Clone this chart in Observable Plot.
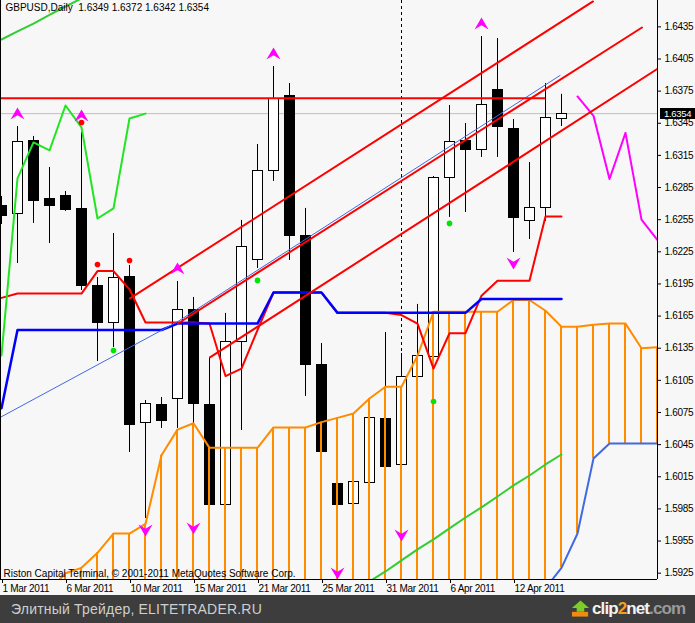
<!DOCTYPE html>
<html>
<head>
<meta charset="utf-8">
<script src="https://cdn.jsdelivr.net/npm/d3@7"></script>
<script src="https://cdn.jsdelivr.net/npm/@observablehq/plot@0.6"></script>
<style>
html, body { margin: 0; padding: 0; background: #f7f7f7; }
#chart { width: 695px; height: 595px; overflow: hidden; }
#footer { position: relative; width: 695px; height: 28px; background: #3d3d3d; overflow: hidden; }
#footer .et { position: absolute; left: 11px; top: 6px; font-family: "Liberation Sans", Arial, sans-serif; font-size: 14px; color: #cfcfcf; letter-spacing: 0.2px; white-space: nowrap; }
#footer .logo { position: absolute; left: 571px; top: 3px; height: 22px; display: flex; align-items: center; white-space: nowrap; }
#footer .logo span.t { font-family: "Liberation Sans", Arial, sans-serif; font-weight: bold; font-size: 17px; letter-spacing: -0.9px; color: #f2f2f2; margin-left: 2px; }
#footer .logo span.two { color: #f0a020; }
#footer .logo span.com { color: #9a9a9a; }
</style>
</head>
<body>
<div id="chart"></div>
<div id="footer">
  <span class="et">Элитный Трейдер, ELITETRADER.RU</span>
  <span class="logo">
    <svg width="19" height="18" viewBox="0 0 20 18"><polygon points="10,0 19,8 14,8 14,12 6,12 6,8 1,8" fill="#7ccc2a"/><rect x="1" y="12" width="17" height="5" fill="#f08a10"/></svg>
    <span class="t">clip<span class="two">2</span>net<span class="com">.com</span></span>
  </span>
</div>
<script>
// ---------- data ----------
const symbol = "GBPUSD";
const period = "Daily";
const barLabels = ["1 Mar 2011", "6 Mar 2011", "10 Mar 2011", "15 Mar 2011", "21 Mar 2011", "25 Mar 2011", "31 Mar 2011", "6 Apr 2011", "12 Apr 2011"];
const labelBars = [0, 4, 8, 12, 16, 20, 24, 28, 32];
const yTicks = [1.6435, 1.6405, 1.6375, 1.6345, 1.6315, 1.6285, 1.6255, 1.6225, 1.6195, 1.6165, 1.6135, 1.6105, 1.6075, 1.6045, 1.6015, 1.5985, 1.5955, 1.5925];
const yRange = [1.59191, 1.64596];
const barRange = [-0.0625, 41];

const opens = [1.62673, 1.62599, 1.63280, 1.62739, 1.62767, 1.62645, 1.61927, 1.61581, 1.62011, 1.60648, 1.60816, 1.60872, 1.61703, 1.60816, 1.59882, 1.61404, 1.62169, 1.63000, 1.63700, 1.62393, 1.61189, 1.60078, 1.59892, 1.60088, 1.60685, 1.60256, 1.61086, 1.61264, 1.62935, 1.63280, 1.63196, 1.63765, 1.63401, 1.62533, 1.62655, 1.6349];
const highs = [1.62767, 1.63420, 1.63327, 1.63037, 1.62813, 1.63364, 1.62011, 1.62421, 1.62123, 1.60862, 1.60890, 1.61973, 1.61824, 1.61264, 1.61675, 1.62543, 1.63252, 1.63980, 1.63821, 1.62655, 1.61394, 1.60116, 1.60134, 1.60769, 1.61497, 1.61301, 1.61759, 1.62953, 1.63616, 1.63448, 1.64260, 1.64241, 1.63485, 1.63084, 1.63821, 1.6372];
const lows = [1.62505, 1.62141, 1.62515, 1.62328, 1.62627, 1.61889, 1.61226, 1.61357, 1.60377, 1.59761, 1.60601, 1.60601, 1.59780, 1.59873, 1.59873, 1.60582, 1.62095, 1.62907, 1.62169, 1.60900, 1.60349, 1.59360, 1.59425, 1.60060, 1.60209, 1.59714, 1.61049, 1.60900, 1.62571, 1.62617, 1.63131, 1.63131, 1.62244, 1.62365, 1.62533, 1.6342];
const closes = [1.62580, 1.63271, 1.62720, 1.62673, 1.62636, 1.61927, 1.61581, 1.62001, 1.60629, 1.60825, 1.60666, 1.61703, 1.60825, 1.59882, 1.61404, 1.62291, 1.63000, 1.63681, 1.62393, 1.61189, 1.60377, 1.59882, 1.60097, 1.60694, 1.60237, 1.61077, 1.61282, 1.62935, 1.63271, 1.63196, 1.63616, 1.63411, 1.62561, 1.62655, 1.63495, 1.6354];

// Ichimoku
const tenkan = [1.6182, 1.6186, 1.6186, 1.6186, 1.6186, 1.6186, 1.6207, 1.6207, 1.6190, 1.6159, 1.6159, 1.6159, 1.6159, 1.6158, 1.6109, 1.6116, 1.6152, 1.6187, 1.6187, 1.6187, 1.6187, 1.6168, 1.6168, 1.6168, 1.6168, 1.6166, 1.6158, 1.6116, 1.6149, 1.6149, 1.6184, 1.6198, 1.6198, 1.6198, 1.6258, 1.6258];
const kijun = [1.6079, 1.6152, 1.6152, 1.6152, 1.6152, 1.6152, 1.6152, 1.6152, 1.6152, 1.6152, 1.6152, 1.6158, 1.6158, 1.6158, 1.6158, 1.6158, 1.6158, 1.6187, 1.6187, 1.6187, 1.6187, 1.6168, 1.6168, 1.6168, 1.6168, 1.6168, 1.6168, 1.6168, 1.6168, 1.6168, 1.6181, 1.6181, 1.6181, 1.6181, 1.6181, 1.6181];
const chikou = [1.61282, 1.62935, 1.63271, 1.63196, 1.63616, 1.63411, 1.62561, 1.62655, 1.63495, 1.6354];
const spanFirstBar = 3;
const spanA = [1.5909, 1.5925, 1.5930, 1.5944, 1.5962, 1.5962, 1.5971, 1.6035, 1.6059, 1.6065, 1.6042, 1.6042, 1.6042, 1.6042, 1.6061, 1.6061, 1.6061, 1.6066, 1.6070, 1.6074, 1.6088, 1.6099, 1.6099, 1.6128, 1.6169, 1.6169, 1.6169, 1.6169, 1.6169, 1.6180, 1.6180, 1.6170, 1.6155, 1.6155, 1.6157, 1.6158, 1.6158, 1.6135, 1.6136];
const spanB = [1.5880, 1.5880, 1.5880, 1.5880, 1.5880, 1.5880, 1.5880, 1.5880, 1.5880, 1.5880, 1.5880, 1.5880, 1.5880, 1.5880, 1.5880, 1.5880, 1.5880, 1.5880, 1.5880, 1.5880, 1.5880, 1.5880, 1.5880, 1.5880, 1.5880, 1.5880, 1.5880, 1.5880, 1.5880, 1.5880, 1.5880, 1.5911, 1.5930, 1.5962, 1.6032, 1.6046, 1.6046, 1.6046, 1.6046];

// other indicators
const forecastFirstBar = 36;
const forecast = [1.6370, 1.6352, 1.6293, 1.6336, 1.6255, 1.6236];
const greenTopFirstBar = 0;
const greenTop = [1.64232, 1.64307, 1.64381, 1.64461, 1.64540, 1.64615];
const greenLowFirstBar = 23;
const greenLow = [1.59173, 1.59266, 1.59369, 1.59472, 1.59565, 1.59668, 1.59770, 1.59864, 1.59966, 1.60069, 1.60162, 1.60265, 1.60358];
const redDotBars = [5, 6, 8];
const redDotPrices = [1.63457, 1.62132, 1.62169];
const greenDotBars = [7, 16, 27, 28];
const greenDotPrices = [1.61329, 1.61983, 1.60853, 1.62515];
const upArrowBars = [1, 5, 11, 17, 30];
const upArrowPrices = [1.63541, 1.63523, 1.62095, 1.64101, 1.64381];
const downArrowBars = [9, 12, 21, 25, 32];
const downArrowPrices = [1.59649, 1.59668, 1.59248, 1.59602, 1.62141];

// drawn objects
const channelUpper = [[8.03, 1.61815], [36.97, 1.64587]];
const channelMiddle = [[11.03, 1.61581], [40.03, 1.64344]];
const channelLower = [[13.03, 1.61264], [41.03, 1.63961]];
const regressionLine = [[-0.094, 1.60694], [11.03, 1.61591], [34.91, 1.63887]];
const levelLine = {price: 1.63684, from: -0.094, to: 34};
const verticalLineBar = 25;
const copyright = "Riston Capital Terminal, © 2001-2011 MetaQuotes Software Corp.";

// ---------- tables ----------
const candles = opens.map((o, i) => ({i, open: o, high: highs[i], low: lows[i], close: closes[i]}));
const cloud = spanA.map((a, k) => ({i: spanFirstBar + k, a, b: spanB[k]}));
const seq = (arr, first) => arr.map((v, k) => ({i: first + k, v}));
const pts = (bars, prices) => bars.map((b, k) => ({i: b, v: prices[k]}));
const last = candles[candles.length - 1];
const fmt = d3.format(".4f");
const title = `${symbol},${period}\u00a0 ${fmt(last.open)} ${fmt(last.high)} ${fmt(last.low)} ${fmt(last.close)}`;
const labelMap = new Map(labelBars.map((b, k) => [b, barLabels[k]]));

const arrowUp = {draw(ctx, size) { const r = Math.sqrt(size / Math.PI); ctx.moveTo(0, -r * 0.85); ctx.lineTo(r, r * 0.85); ctx.lineTo(0, r * 0.25); ctx.lineTo(-r, r * 0.85); ctx.closePath(); }};
const arrowDown = {draw(ctx, size) { const r = Math.sqrt(size / Math.PI); ctx.moveTo(0, r * 0.85); ctx.lineTo(r, -r * 0.85); ctx.lineTo(0, -r * 0.25); ctx.lineTo(-r, -r * 0.85); ctx.closePath(); }};

const RED = "#ff0000", ORANGE = "#ff8c00";

const chart = Plot.plot({
  width: 695, height: 595,
  marginLeft: 0, marginRight: 38, marginTop: 0, marginBottom: 16,
  style: {background: "#f7f7f7", fontFamily: "'Liberation Sans', Arial, sans-serif", fontSize: "10px", color: "black", letterSpacing: "-0.3px"},
  x: {domain: barRange},
  y: {domain: yRange},
  marks: [
    Plot.ruleX([verticalLineBar], {stroke: "black", strokeDasharray: "3,3"}),
    Plot.ruleY([last.close], {stroke: "#c0c0c0"}),
    // candles
    Plot.ruleX(candles, {x: "i", y1: "low", y2: "high", stroke: "black", clip: true}),
    Plot.rect(candles, {x1: d => d.i - 0.3125, x2: d => d.i + 0.3125, y1: "open", y2: "close",
      fill: d => d.close >= d.open ? "white" : "black", stroke: "black", shapeRendering: "crispEdges", clip: true}),
    // Ichimoku cloud hatch
    Plot.ruleX(cloud, {x: "i", y1: "a", y2: "b", stroke: ORANGE, strokeWidth: 2, dx: -0.5, clip: true}),
    Plot.line(cloud, {x: "i", y: "a", stroke: ORANGE, strokeWidth: 2, clip: true}),
    Plot.line(cloud, {x: "i", y: "b", stroke: "#4169e1", strokeWidth: 2, clip: true}),
    // green lines
    Plot.line(seq(greenTop, greenTopFirstBar), {x: "i", y: "v", stroke: "#32cd32", strokeWidth: 2, clip: true}),
    Plot.line(seq(greenLow, greenLowFirstBar), {x: "i", y: "v", stroke: "#32cd32", strokeWidth: 2, clip: true}),
    // Tenkan / Kijun / Chikou
    Plot.line(seq(tenkan, 0), {x: "i", y: "v", stroke: RED, strokeWidth: 2}),
    Plot.line(seq(kijun, 0), {x: "i", y: "v", stroke: "#0000ff", strokeWidth: 2.5}),
    Plot.line(seq(chikou, 0), {x: "i", y: "v", stroke: "#1fe61f", strokeWidth: 2}),
    Plot.line(seq(forecast, forecastFirstBar), {x: "i", y: "v", stroke: "#ff00ff", strokeWidth: 2, clip: true}),
    // drawn objects
    Plot.line(channelUpper, {x: d => d[0], y: d => d[1], stroke: RED, strokeWidth: 2, clip: true}),
    Plot.line(channelMiddle, {x: d => d[0], y: d => d[1], stroke: RED, strokeWidth: 2, clip: true}),
    Plot.line(channelLower, {x: d => d[0], y: d => d[1], stroke: RED, strokeWidth: 2, clip: true}),
    Plot.line(regressionLine, {x: d => d[0], y: d => d[1], stroke: "#4169e1", strokeWidth: 1, dy: -1, clip: true}),
    Plot.ruleY([levelLine], {y: "price", x1: "from", x2: "to", stroke: RED, strokeWidth: 2, clip: true}),
    // signals
    Plot.dot(pts(redDotBars, redDotPrices), {x: "i", y: "v", r: 2.8, fill: RED}),
    Plot.dot(pts(greenDotBars, greenDotPrices), {x: "i", y: "v", r: 2.8, fill: "#00e600"}),
    Plot.dot(pts(upArrowBars, upArrowPrices), {x: "i", y: "v", r: 7, symbol: arrowUp, fill: "#ff00ff"}),
    Plot.dot(pts(downArrowBars, downArrowPrices), {x: "i", y: "v", r: 7, symbol: arrowDown, fill: "#ff00ff"}),
    // frame lines
    Plot.ruleX([barRange[0]], {stroke: "black"}),
    Plot.ruleX([barRange[1]], {stroke: "black"}),
    Plot.ruleY([yRange[0]], {stroke: "black"}),
    // axes
    Plot.axisY({anchor: "right", ticks: yTicks, tickFormat: fmt, tickSize: 3, tickPadding: 4, fontSize: 10}),
    Plot.axisX({ticks: labelBars, tickFormat: d => labelMap.get(d), tickSize: 4, tickPadding: 1, textAnchor: "start", dx: 1, fontSize: 10}),
    // texts
    Plot.text([title], {frameAnchor: "top-left", dx: 5, dy: 3, textAnchor: "start", lineAnchor: "top", fontSize: 10}),
    Plot.text([copyright], {frameAnchor: "bottom-left", dx: 3, dy: -3, textAnchor: "start", lineAnchor: "bottom", fontSize: 10})
  ]
});

// letter spacing for the two long texts
d3.select(chart).selectAll("text").filter(function () { const t = this.textContent; return t === title || t === copyright; }).style("letter-spacing", "0px");

// current price box on the axis, positioned with the chart's own y scale
const py = chart.scale("y").apply(last.close) + 0.5;
const svg = d3.select(chart);
svg.append("rect").attr("x", 660).attr("y", Math.round(py) - 6).attr("width", 35).attr("height", 11).attr("fill", "black");
svg.append("text").attr("x", 664).attr("y", Math.round(py) - 0.5).attr("dy", "0.35em").attr("text-anchor", "start").attr("fill", "white").attr("font-size", 9.5).text(fmt(last.close));

document.getElementById("chart").appendChild(chart);
</script>
</body>
</html>
